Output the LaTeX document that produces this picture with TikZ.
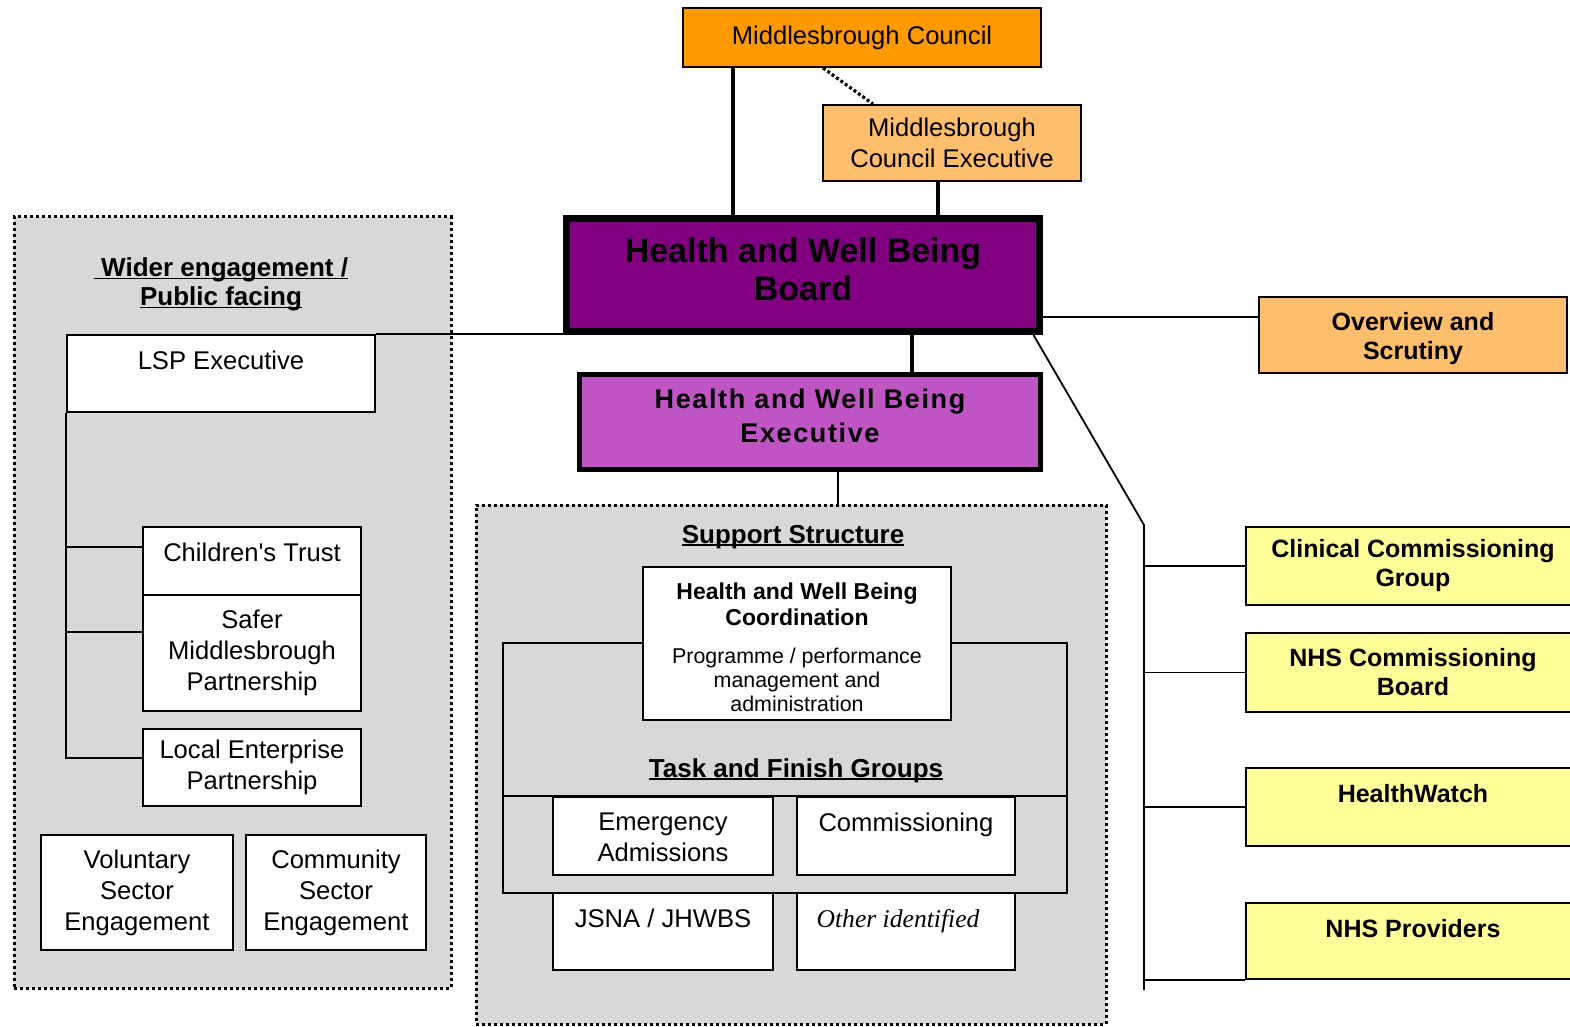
\documentclass[tikz,border=0pt]{standalone}
\usepackage{fontspec}
\setmainfont{Liberation Sans}
\newfontfamily\serifface{Liberation Serif}
\newfontfamily\spacedface[LetterSpace=6]{Liberation Sans}
\usetikzlibrary{positioning}

\definecolor{councilorange}{RGB}{255,153,0}
\definecolor{paleorange}{RGB}{255,190,110}
\definecolor{boardpurple}{RGB}{128,0,128}
\definecolor{execpurple}{RGB}{190,85,195}
\definecolor{paleyellow}{RGB}{255,255,153}
\definecolor{panelgray}{RGB}{216,216,216}

\newcommand{\regfont}{\fontsize{12.8}{15.5}\selectfont}
\newcommand{\smallfont}{\fontsize{10.7}{12}\selectfont}
\newcommand{\coordfont}{\fontsize{11.5}{13}\selectfont\bfseries}
\newcommand{\headfont}{\fontsize{13}{14.5}\selectfont\bfseries}
\newcommand{\sidefont}{\fontsize{12.5}{14.5}\selectfont\bfseries}
\newcommand{\wordline}[1]{\setbox0=\hbox{#1}\rlap{\rule[-1.6pt]{\wd0}{0.9pt}}\box0}

\tikzstyle{unit}=[draw, line width=1pt, fill=white, inner sep=0pt, align=center]
\tikzstyle{side}=[unit, fill=paleyellow, font=\sidefont]
\tikzstyle{panel}=[draw, fill=panelgray, line width=1.5pt, dash pattern=on 1.5pt off 1.5pt, inner sep=0pt]
\tikzstyle{heading}=[font=\headfont, align=center, inner sep=0pt]
\tikzstyle{link}=[line width=0.9pt]
\tikzstyle{mainlink}=[line width=1.6pt]
\tikzset{toptext/.style={label={[anchor=north, align=center, inner sep=0pt, yshift=-8.3pt, font=\regfont]north:#1}}}

\begin{document}
\begin{tikzpicture}[x=0.5pt, y=-0.5pt, font=\regfont]
  \useasboundingbox (0,0) rectangle (1570,1027);
  \clip (0,0) rectangle (1570,1027);

  % panels
  \node[panel, minimum width=218.5pt, minimum height=385.5pt] (wider) at (232.5,602.5) {};
  \node[panel, minimum width=315pt, minimum height=259.5pt] (support) at (791,764.5) {};
  \node[heading, anchor=north] (widert) at (221,257) {\wordline{\ Wider engagement /}\\\wordline{Public facing}};
  \node[heading, anchor=base] (supportt) at (793,543) {\wordline{Support Structure}};

  % council and board
  \node[unit, fill=councilorange, minimum width=179pt, minimum height=29.5pt] (council) at (862,37.5) {Middlesbrough Council};
  \node[unit, fill=paleorange, minimum width=129pt, minimum height=38pt] (cexec) at (952,143) {Middlesbrough\\Council Executive};
  \node[draw, line width=3.5pt, fill=boardpurple, minimum width=236.5pt, minimum height=56.5pt, inner sep=0pt, align=center,
        font=\fontsize{17}{19}\selectfont\bfseries, text depth=6pt] (board) at (803,275) {Health and Well Being\\Board};
  \node[draw, line width=2.5pt, fill=execpurple, minimum width=230.5pt, minimum height=47.5pt, inner sep=0pt, align=center,
        font=\spacedface\bfseries\fontsize{13.5}{17}\selectfont, text depth=6pt] (exec) at (810,422) {Health and Well Being\\Executive};

  % support structure
  \node[draw, line width=0.9pt, minimum width=282pt, minimum height=125pt, inner sep=0pt] (taskframe) at (785,768) {};
  \node[heading, anchor=base] (taskt) at (796,777) {\wordline{Task and Finish Groups}};
  \node[unit, minimum width=154pt, minimum height=76.5pt,
        label={[anchor=north, align=center, inner sep=0pt, yshift=-8pt, font=\coordfont]north:Health and Well Being\\Coordination},
        label={[anchor=north, align=center, inner sep=0pt, yshift=-41pt, font=\smallfont]north:Programme / performance\\management and\\administration}] (coord) at (797,643.5) {};
  \node[unit, minimum width=110pt, minimum height=39pt, toptext={Emergency\\Admissions}] (emerg) at (663,836) {};
  \node[unit, minimum width=109pt, minimum height=39pt, toptext={Commissioning}] (commis) at (906,836) {};
  \node[unit, minimum width=110pt, minimum height=38.5pt, toptext={JSNA / JHWBS}] (jsna) at (663,931.5) {};
  \node[unit, minimum width=109pt, minimum height=38.5pt, toptext={\serifface\itshape Other identified\hspace{8pt}}] (other) at (906,931.5) {};
  \draw[link] (taskframe.west |- emerg.north) -- (taskframe.east |- emerg.north);

  % wider engagement
  \node[unit, minimum width=154pt, minimum height=38.5pt, toptext={LSP Executive}] (lsp) at (221,373.5) {};
  \node[unit, minimum width=109pt, minimum height=34pt, toptext={Children\textquotesingle s Trust}] (trust) at (252,561) {};
  \node[unit, minimum width=109pt, minimum height=58pt] (safer) at (252,653) {Safer\\Middlesbrough\\Partnership};
  \node[unit, minimum width=109pt, minimum height=38.5pt] (lep) at (252,767.5) {Local Enterprise\\Partnership};
  \node[unit, minimum width=96pt, minimum height=57.5pt] (vol) at (137,892.5) {Voluntary\\Sector\\Engagement};
  \node[unit, minimum width=90pt, minimum height=57.5pt] (comm) at (336,892.5) {Community\\Sector\\Engagement};

  % partners
  \node[unit, fill=paleorange, font=\sidefont, minimum width=154pt, minimum height=38pt, text height=27pt] (scrutiny) at (1413,335) {Overview and\\Scrutiny};
  \node[side, minimum width=167pt, minimum height=39pt] (ccg) at (1413,566) {Clinical Commissioning\\Group};
  \node[side, minimum width=167pt, minimum height=39.5pt] (nhscb) at (1413,672.5) {NHS Commissioning\\Board};
  \node[side, minimum width=167pt, minimum height=39pt, toptext={\sidefont HealthWatch}] (hw) at (1413,807) {};
  \node[side, minimum width=167pt, minimum height=38pt, toptext={\sidefont NHS Providers}] (nhsp) at (1413,941) {};

  % connectors
  \coordinate (cl) at ([xshift=-64.5pt]council.south);
  \draw[mainlink] (cl) -- (cl |- board.north);
  \draw[mainlink, dash pattern=on 1.5pt off 1.2pt] ([xshift=-19.5pt]council.south) -- ([xshift=-39.5pt]cexec.north);
  \coordinate (ce) at ([xshift=-7pt]cexec.south);
  \draw[mainlink] (ce) -- (ce |- board.north);
  \coordinate (be) at ([xshift=54.5pt]board.south);
  \draw[line width=2pt] (be) -- (be |- exec.north);
  \coordinate (es) at ([xshift=14pt]exec.south);
  \draw[link] (es) -- (es |- support.north);

  \draw[link] (lsp.north east) -- (lsp.north east -| board.west);
  \coordinate (tb) at ([yshift=7pt]trust.west);
  \coordinate (sb) at ([yshift=10.5pt]safer.west);
  \draw[link] (lsp.south west) |- ([yshift=4.75pt]lep.west);
  \draw[link] (lsp.south west |- tb) -- (tb);
  \draw[link] (lsp.south west |- sb) -- (sb);

  \coordinate (ov) at ([yshift=-21pt]board.east);
  \draw[link] (ov) -- (ov -| scrutiny.west);
  \coordinate (bus) at (1144,525);
  \coordinate (busend) at (1144,990);
  \draw[link] ([xshift=-4.75pt]board.south east) -- (bus) -- (busend);
  \draw[link] (bus |- ccg.west) -- (ccg.west);
  \draw[link] (bus |- nhscb.west) -- (nhscb.west);
  \draw[link] (bus |- hw.west) -- (hw.west);
  \draw[link] (bus |- nhsp.south west) -- (nhsp.south west);
\end{tikzpicture}
\end{document}
